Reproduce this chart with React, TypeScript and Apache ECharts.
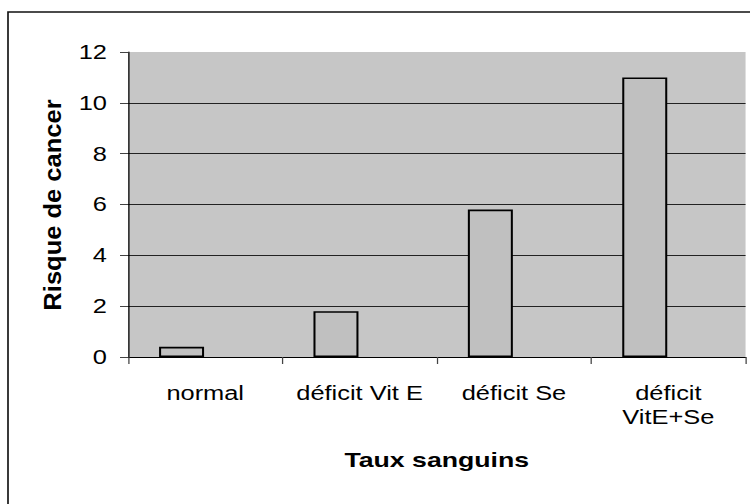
import React, { useEffect, useRef } from "react";
import * as echarts from "echarts";

const categories = ["normal", "déficit Vit E", "déficit Se", "déficit\nVitE+Se"];
const risk = [0.4, 1.8, 5.8, 11];
const emptySeries: number[] = [];
const yTicks = { min: 0, max: 12, interval: 2 };
const xTitle = "Taux sanguins";
const yTitle = "Risque de cancer";

const SX = 1.27;
const W = 750 / SX;

export default function App() {
  const ref = useRef<HTMLDivElement>(null);
  useEffect(() => {
    if (!ref.current) return;
    const chart = echarts.init(ref.current, undefined, { renderer: "svg" });
    const font = "'Liberation Sans', Arial, sans-serif";
    chart.setOption({
      animation: false,
      backgroundColor: "#ffffff",
      textStyle: { fontFamily: font },
      graphic: [
        {
          type: "rect",
          shape: { x: 6.3, y: 12, width: 800, height: 600 },
          style: { fill: "none", stroke: "#111", lineWidth: 1.3 },
          z: -1,
        },
        {
          type: "text",
          x: 53 / SX,
          y: 205,
          rotation: Math.PI / 2,
          scaleX: 1.16,
          scaleY: 0.85,
          style: {
            text: yTitle,
            fill: "#000",
            font: `bold 22px ${font}`,
            textAlign: "center",
            textVerticalAlign: "middle",
          },
        },
      ],
      grid: {
        left: 128 / SX,
        right: 5 / SX,
        top: 52,
        bottom: 147,
        show: true,
        backgroundColor: "#c6c6c6",
        borderWidth: 0,
      },
      xAxis: {
        type: "category",
        data: categories,
        name: xTitle,
        nameLocation: "middle",
        nameGap: 92,
        nameTextStyle: { fontSize: 21, fontWeight: "bold", color: "#000", fontFamily: font },
        axisLine: { lineStyle: { color: "#000", width: 1 } },
        axisTick: { show: true, length: 7, lineStyle: { color: "#444" } },
        axisLabel: {
          interval: 0,
          fontSize: 20,
          color: "#000",
          margin: 24,
          lineHeight: 24,
          fontFamily: font,
        },
      },
      yAxis: {
        type: "value",
        min: yTicks.min,
        max: yTicks.max,
        interval: yTicks.interval,
        axisLine: { show: true, lineStyle: { color: "#000", width: 1 } },
        axisTick: { show: true, length: 8 / SX, lineStyle: { color: "#444" } },
        axisLabel: { fontSize: 20, color: "#000", margin: 21 / SX, fontFamily: font },
        splitLine: {
          show: true,
          lineStyle: {
            color: ["#222", "#222", "#222", "#222", "#222", "#222", "rgba(0,0,0,0)"],
            width: 1,
          },
        },
      },
      series: [
        {
          type: "bar",
          data: risk,
          barWidth: 45 / SX,
          barGap: "5%",
          itemStyle: { color: "#c0c0c0", borderColor: "#000", borderWidth: 1.6 },
        },
        {
          type: "bar",
          data: emptySeries,
          barWidth: 45 / SX,
          itemStyle: { color: "#c0c0c0", borderColor: "#000", borderWidth: 1.6 },
        },
      ],
    });
    return () => chart.dispose();
  }, []);
  return (
    <div
      style={{
        position: "fixed",
        left: 0,
        top: 0,
        width: 750,
        height: 504,
        overflow: "hidden",
        background: "#fff",
      }}
    >
      <div
        ref={ref}
        style={{
          width: W,
          height: 504,
          transform: `scaleX(${SX})`,
          transformOrigin: "0 0",
        }}
      />
    </div>
  );
}
